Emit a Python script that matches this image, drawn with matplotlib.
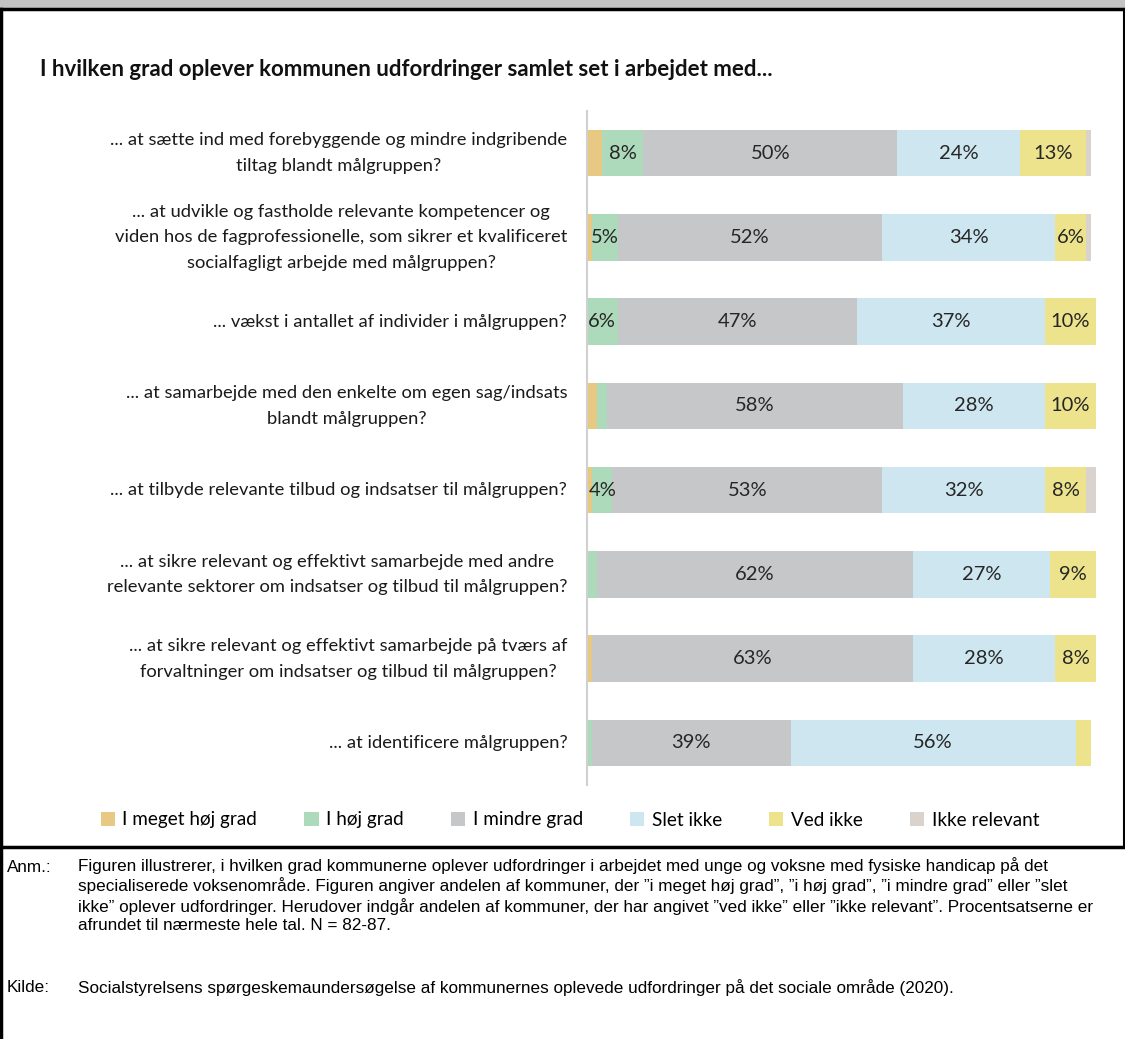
import numpy as np
import matplotlib
matplotlib.use("Agg")
import matplotlib.pyplot as plt
from matplotlib.patches import Rectangle, Patch
from matplotlib.lines import Line2D

W, H = 1125, 1039

# data (andel af kommuner, %)
questions = [
    "... at sætte ind med forebyggende og mindre indgribende\ntiltag blandt målgruppen?",
    "... at udvikle og fastholde relevante kompetencer og\nviden hos de fagprofessionelle, som sikrer et kvalificeret\nsocialfagligt arbejde med målgruppen?",
    "... vækst i antallet af individer i målgruppen?",
    "... at samarbejde med den enkelte om egen sag/indsats\nblandt målgruppen?",
    "... at tilbyde relevante tilbud og indsatser til målgruppen?",
    "... at sikre relevant og effektivt samarbejde med andre\nrelevante sektorer om indsatser og tilbud til målgruppen?",
    "... at sikre relevant og effektivt samarbejde på tværs af\nforvaltninger om indsatser og tilbud til målgruppen?",
    "... at identificere målgruppen?",
]
categories = ["I meget høj grad", "I høj grad", "I mindre grad", "Slet ikke", "Ved ikke", "Ikke relevant"]
meget_hoej = [3, 1, 0, 2, 1, 0, 1, 0]
hoej = [8, 5, 6, 2, 4, 2, 0, 1]
mindre = [50, 52, 47, 58, 53, 62, 63, 39]
slet_ikke = [24, 34, 37, 28, 32, 27, 28, 56]
ved_ikke = [13, 6, 10, 10, 8, 9, 8, 3]
ikke_relevant = [1, 1, 0, 0, 2, 0, 0, 0]
series = [meget_hoej, hoej, mindre, slet_ikke, ved_ikke, ikke_relevant]
colors = ["#E8C983", "#AEDABC", "#C5C7C9", "#CDE6EF", "#EDE38C", "#DAD2CC"]

note_text = ("Figuren illustrerer, i hvilken grad kommunerne oplever udfordringer i arbejdet med unge og voksne med fysiske handicap på det\n"
             "specialiserede voksenområde. Figuren angiver andelen af kommuner, der \u201di meget høj grad\u201d, \u201di høj grad\u201d, \u201di mindre grad\u201d eller \u201dslet\n"
             "ikke\u201d oplever udfordringer. Herudover indgår andelen af kommuner, der har angivet \u201dved ikke\u201d eller \u201dikke relevant\u201d. Procentsatserne er\n"
             "afrundet til nærmeste hele tal. N = 82-87.")
source_text = "Socialstyrelsens spørgeskemaundersøgelse af kommunernes oplevede udfordringer på det sociale område (2020)."

fig = plt.figure(figsize=(W / 100, H / 100), dpi=100)

def fx(px):
    return px / W

def fy(py):
    return 1 - py / H

# frame
fig.add_artist(Rectangle((0, fy(8)), 1, fy(0) - fy(8), transform=fig.transFigure,
                         facecolor="#C3C3C3", edgecolor="none"))
fig.add_artist(Line2D([0, 1], [fy(9), fy(9)], transform=fig.transFigure, color="black", lw=2.5))
fig.add_artist(Line2D([0, 1], [fy(847), fy(847)], transform=fig.transFigure, color="black", lw=2.5))
fig.add_artist(Line2D([fx(1), fx(1)], [0, fy(9)], transform=fig.transFigure, color="black", lw=2.5))
fig.add_artist(Line2D([fx(1124), fx(1124)], [fy(847), fy(9)], transform=fig.transFigure, color="black", lw=1.5))

fig.text(fx(40), fy(70), "I hvilken grad oplever kommunen udfordringer samlet set i arbejdet med...",
         fontsize=16, fontfamily="Lato", fontweight="bold", color="#111111", va="center", ha="left")

ax = fig.add_axes([fx(587), fy(785), fx(1096) - fx(587), fy(111) - fy(785)])
y = np.arange(len(questions))
left = np.zeros(len(questions))
for vals, col, name in zip(series, colors, categories):
    vals = np.array(vals, dtype=float)
    ax.barh(y, vals, left=left, height=0.55, color=col, label=name, edgecolor="none")
    for yi, (v, l) in enumerate(zip(vals, left)):
        if v >= 4:
            ax.text(l + v / 2, yi, f"{int(v)}%", ha="center", va="center",
                    fontsize=14.5, fontfamily="Lato", color="#262626")
    left += vals

ax.set_xlim(0, 100)
ax.set_ylim(len(questions) - 0.5, -0.5)
for s in ["top", "right", "bottom"]:
    ax.spines[s].set_visible(False)
ax.spines["left"].set_color("#D0D0D0")
ax.spines["left"].set_linewidth(1.5)
ax.set_xticks([])
ax.set_yticks([])

for yi, q in enumerate(questions):
    ax.text(-0.039, yi, q, transform=ax.get_yaxis_transform(), ha="right", va="center",
            multialignment="center", fontsize=13.2, fontfamily="Lato", color="#1a1a1a",
            linespacing=1.75)

handles = [Patch(facecolor=c, edgecolor="none") for c in colors]
fig.legend(handles, categories, loc="center", bbox_to_anchor=(fx(570), fy(820)), ncol=6,
           frameon=False, prop={"family": "Lato", "size": 13.6}, handlelength=0.75,
           handleheight=0.75, handletextpad=0.4, columnspacing=2.5)

fs = 12.3
fig.text(fx(7), fy(867), "Anm.:", fontsize=fs, fontfamily="Liberation Sans", va="center", ha="left")
fig.text(fx(78), fy(857), note_text, fontsize=fs, fontfamily="Liberation Sans", va="top", ha="left",
         linespacing=1.25)
fig.text(fx(7), fy(988), "Kilde:", fontsize=fs, fontfamily="Liberation Sans", va="center", ha="left")
fig.text(fx(78), fy(988), source_text, fontsize=fs, fontfamily="Liberation Sans", va="center", ha="left")

fig.savefig("out.png", dpi=100, facecolor="white")
